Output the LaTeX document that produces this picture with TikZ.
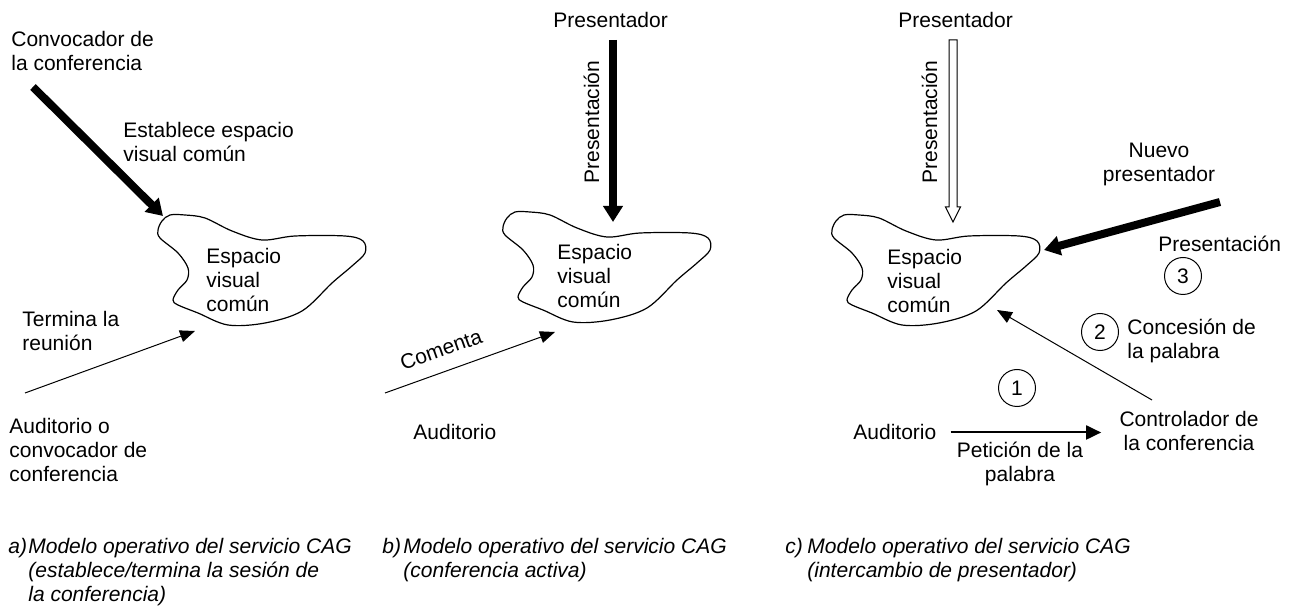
\documentclass[tikz,border=0pt]{standalone}
\usepackage{fontspec}
\setmainfont{Liberation Sans}
\usetikzlibrary{arrows.meta,calc}

% Multi-line nodes are placed by the baseline of their last line.
\tikzset{
  txt/.style={font=\fontsize{10.5}{12}\selectfont, inner sep=0pt, align=left, anchor=base west},
  ctxt/.style={txt, align=center, anchor=base},
  captxt/.style={txt, font=\fontsize{10.5}{12}\selectfont\itshape},
  num/.style={draw, circle, line width=0.5pt, minimum size=18.5pt, inner sep=0pt,
              font=\fontsize{10.5}{12}\selectfont},
  blobline/.style={line width=0.6pt},
  thickarrow/.style={line width=4pt, -{Triangle[length=8pt,width=9.5pt]}},
  thinarrow/.style={line width=0.5pt, -{Triangle[length=7.5pt,width=6pt]}},
  medarrow/.style={line width=1pt, -{Triangle[length=7.5pt,width=7pt]}},
  hollowarrow/.style={draw, line width=0.5pt, fill=white, line join=miter},
  blob/.pic={
    \draw[blobline] plot[smooth cycle, tension=0.55] coordinates {
      (12,0) (4,6) (0,15) (2,23) (20,38) (30,53) (29,65) (20,75) (15,85) (20,90)
      (40,98) (70,110) (107,108) (144,96) (174,68) (194,51) (207,38) (205,26)
      (187,21) (137,21) (104,25) (74,16) (47,3) (27,0)};
  }
}

\begin{document}
\begin{tikzpicture}[x=0.5pt,y=-0.5pt]
\useasboundingbox (0,0) rectangle (1294,608);

% ---------- a) establish / end the session ----------
\node[txt] (convA) at (11,71) {Convocador de\\la conferencia};
\node[txt] (estA) at (123,162) {Establece espacio\\visual común};
\pic at (158,215) {blob};
\node[txt] (espA) at (206,312) {Espacio\\visual\\común};
\node[txt] (termA) at (22,351) {Termina la\\reunión};
\node[txt] (audA) at (9,481) {Auditorio o\\convocador de\\conferencia};
\coordinate (aS1) at (33,87);
\coordinate (aT1) at (163,216);
\draw[thickarrow] (aS1) -- (aT1);
\coordinate (aS2) at (25,393);
\coordinate (aT2) at (195,331);
\draw[thinarrow] (aS2) -- (aT2);

% ---------- b) active conference ----------
\node[txt] (presB) at (553,28) {Presentador};
\coordinate (bS1) at (613,40);
\coordinate (bT1) at (613,222);
\draw[thickarrow] (bS1) -- (bT1);
\node[txt, rotate=90, anchor=base] (presLabB) at (599,122) {Presentación};
\pic at (503,212) {blob};
\node[txt] (espB) at (557,308) {Espacio\\visual\\común};
\coordinate (bS2) at (385,393);
\coordinate (bT2) at (555,332);
\draw[thinarrow] (bS2) -- (bT2);
\node[txt, rotate=19.7] (comB) at (403,371) {Comenta};
\node[txt] (audB) at (413,440) {Auditorio};

% ---------- c) change of presenter ----------
\node[txt] (presC) at (898,28) {Presentador};
\coordinate (cS1) at (953,40);
\coordinate (cN1) at (953,207);
\coordinate (cT1) at (953,222);
\path[hollowarrow] ([xshift=-2pt]cS1) -- ([xshift=-2pt]cN1) -- ([xshift=-3.75pt]cN1)
  -- (cT1) -- ([xshift=3.75pt]cN1) -- ([xshift=2pt]cN1) -- ([xshift=2pt]cS1) -- cycle;
\node[txt, rotate=90, anchor=base] (presLabC) at (937,122) {Presentación};
\pic at (832,215) {blob};
\node[txt] (espC) at (887,313) {Espacio\\visual\\común};

\node[ctxt] (nuevo) at (1159,182) {Nuevo\\presentador};
\coordinate (cS2) at (1220,202);
\coordinate (cT2) at (1044,250);
\draw[thickarrow] (cS2) -- (cT2);
\node[txt] (presLab3) at (1158,252) {Presentación};
\node[num] (n3) at (1183,276) {3};

\node[num] (n2) at (1100,332) {2};
\node[txt] (conc) at (1127,359) {Concesión de\\la palabra};
\coordinate (cS3) at (1152,400);
\coordinate (cT3) at (997,310);
\draw[thinarrow] (cS3) -- (cT3);

\node[num] (n1) at (1017,388) {1};
\node[txt] (audC) at (853,440) {Auditorio};
\node[ctxt] (ctrl) at (1189,451) {Controlador de\\la conferencia};
\draw[medarrow] ([xshift=7pt]audC.east) -- ([xshift=-9pt]audC.east -| ctrl.west);
\node[ctxt] (pet) at (1020,481) {Petición de la\\palabra};

% ---------- captions ----------
\node[captxt] (capAl) at (8,553) {a)};
\node[captxt] (capA) at (28,601) {Modelo operativo del servicio CAG\\(establece/termina la sesión de\\la conferencia)};
\node[captxt] (capBl) at (382,553) {b)};
\node[captxt] (capB) at (403,577) {Modelo operativo del servicio CAG\\(conferencia activa)};
\node[captxt] (capCl) at (785,553) {c)};
\node[captxt] (capC) at (807,577) {Modelo operativo del servicio CAG\\(intercambio de presentador)};
\end{tikzpicture}
\end{document}
